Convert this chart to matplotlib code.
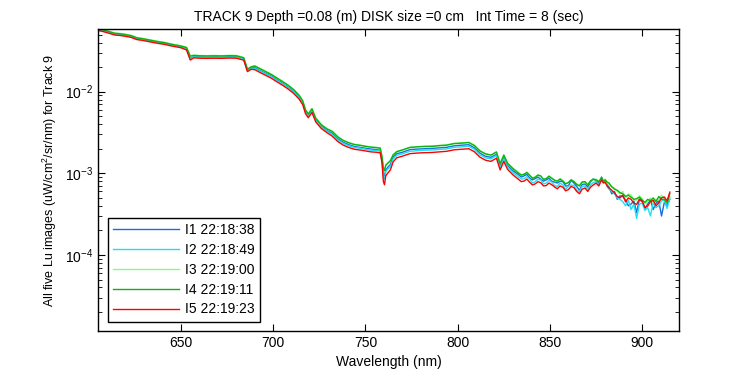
import matplotlib
matplotlib.use("Agg")
import matplotlib.pyplot as plt
from matplotlib.ticker import LogLocator, NullFormatter

plt.rcParams["font.family"] = ["Liberation Sans", "DejaVu Sans"]
plt.rcParams["mathtext.fontset"] = "custom"
plt.rcParams["mathtext.rm"] = "Liberation Sans"

wavelength = [
    605, 608, 611, 614, 617, 620, 623, 626, 629, 632, 635, 638, 641, 644, 647, 650,
    653, 655, 657, 660, 664, 668, 672, 676, 680, 684, 686, 688,
    690, 693, 696, 699, 702, 705, 708, 711, 714, 716, 717.5, 719, 721, 723, 726, 729,
    732, 735, 738, 741, 744, 747, 750, 753, 756, 758,
    759, 759.7, 760.3, 761, 762, 763.5, 765,
    767, 770, 774, 778, 782, 786, 790, 794, 798, 802, 806, 809, 812, 815, 818, 821,
    823, 825, 827, 830,
    833, 834.5, 836, 837.5, 839, 840.5, 842, 843.5, 845, 846.5, 848, 849.5, 851, 852.5, 854,
    855.5, 857, 858.5, 860, 861.5, 863, 864.5, 866, 867.5, 869, 870.5, 872, 873.5, 875,
    876.5, 878, 879, 880, 881, 882,
    883.5, 885, 886.5, 888, 889.5, 891, 892.5, 894, 895.5, 897, 898.5,
    900, 901.5, 903, 904.5, 906, 907.5, 909, 910.5, 912, 913.5, 915,
]

lu_i1 = [
    .0579, .0559, .0535, .0509, .0503, .0490, .0476, .0448, .0438, .0424, .0412, .0401, .0391, .0377, .0366, .0355,
    .0337, .0254, .0270, .0267, .0266, .0267, .0266, .0268, .0267, .0253, .0183, .0196,
    .0197, .0181, .0167, .0155, .0140, .0127, .0114, .0101, .00862, .00734, .00569, .00508, .00589, .00453, .00376, .00335,
    .00308, .00265, .00239, .00224, .00213, .00208, .00203, .00198, .00195, .00192,
    .00145, .000980, .000930, .00110, .00118, .00128, .00158,
    .00174, .00181, .00195, .00198, .00200, .00202, .00205, .00208, .00217, .00221, .00224, .00206, .00177, .00162, .00157, .00171,
    .00123, .00157, .00125, .00107,
    .000960, .000900, .000930, .000970, .000880, .000830, .000860, .000900, .000850, .000800, .000830, .000870, .000800, .000780, .000760,
    .000800, .000790, .000700, .000700, .000820, .000760, .000690, .000620, .000730, .000740, .000680, .000780, .000860, .000820,
    .000760, .000900, .000780, .000810, .000720, .000680,
    .000560, .000600, .000480, .000530, .000520, .000470, .000400, .000420, .000460, .000330, .000480,
    .000450, .000370, .000420, .000480, .000360, .000430, .000460, .000300, .000440, .000400, .000480,
]

lu_i2 = [
    .0573, .0554, .0529, .0504, .0498, .0486, .0471, .0444, .0434, .0420, .0408, .0397, .0388, .0373, .0362, .0352,
    .0334, .0251, .0268, .0265, .0264, .0265, .0264, .0266, .0265, .0250, .0181, .0194,
    .0193, .0178, .0164, .0152, .0137, .0125, .0112, .00993, .00846, .00720, .00558, .00498, .00578, .00444, .00369, .00329,
    .00299, .00257, .00232, .00217, .00207, .00203, .00197, .00192, .00190, .00187,
    .00140, .000900, .000850, .00105, .00112, .00120, .00150,
    .00166, .00173, .00186, .00189, .00192, .00193, .00196, .00199, .00208, .00211, .00214, .00197, .00169, .00155, .00150, .00164,
    .00118, .00150, .00120, .00102,
    .000900, .000850, .000860, .000910, .000850, .000760, .000790, .000850, .000830, .000740, .000760, .000820, .000780, .000710, .000690,
    .000760, .000720, .000640, .000690, .000720, .000710, .000620, .000600, .000690, .000700, .000640, .000720, .000770, .000790,
    .000720, .000850, .000770, .000790, .000690, .000640,
    .000600, .000560, .000500, .000480, .000450, .000400, .000470, .000360, .000420, .000280, .000420,
    .000430, .000350, .000380, .000300, .000440, .000380, .000400, .000460, .000470, .000370, .000500,
]

lu_i3 = [
    .0596, .0576, .0550, .0524, .0517, .0505, .0490, .0461, .0451, .0437, .0424, .0412, .0403, .0388, .0376, .0366,
    .0350, .0275, .0281, .0278, .0276, .0278, .0276, .0279, .0278, .0262, .0190, .0203,
    .0208, .0192, .0177, .0164, .0148, .0134, .0121, .0107, .00911, .00775, .00601, .00536, .00623, .00478, .00398, .00354,
    .00328, .00282, .00254, .00238, .00227, .00222, .00216, .00210, .00208, .00205,
    .00160, .00118, .00110, .00128, .00135, .00145, .00170,
    .00186, .00194, .00209, .00212, .00215, .00216, .00220, .00223, .00233, .00236, .00240, .00221, .00190, .00174, .00168, .00184,
    .00132, .00168, .00134, .00115,
    .00103, .000960, .000990, .00104, .000940, .000880, .000910, .000960, .000920, .000850, .000870, .000930, .000880, .000830, .000810,
    .000860, .000820, .000750, .000780, .000840, .000800, .000740, .000720, .000790, .000780, .000730, .000800, .000850, .000850,
    .000800, .000860, .000820, .000850, .000760, .000740,
    .000690, .000660, .000600, .000560, .000600, .000500, .000560, .000540, .000470, .000470, .000530,
    .000490, .000420, .000450, .000500, .000430, .000480, .000470, .000540, .000500, .000450, .000520,
]

lu_i4 = [
    .0590, .0570, .0545, .0519, .0512, .0500, .0485, .0457, .0446, .0433, .0420, .0408, .0399, .0384, .0373, .0362,
    .0347, .0272, .0278, .0275, .0274, .0275, .0274, .0276, .0275, .0260, .0188, .0201,
    .0206, .0190, .0175, .0162, .0147, .0133, .0120, .0106, .00902, .00768, .00596, .00532, .00617, .00474, .00394, .00351,
    .00325, .00279, .00252, .00236, .00225, .00220, .00214, .00209, .00206, .00203,
    .00158, .00115, .00108, .00125, .00132, .00142, .00168,
    .00184, .00193, .00207, .00211, .00213, .00214, .00218, .00221, .00231, .00234, .00238, .00219, .00188, .00173, .00167, .00182,
    .00131, .00167, .00133, .00114,
    .00100, .000950, .000970, .00102, .000950, .000870, .000890, .000950, .000930, .000840, .000860, .000920, .000870, .000820, .000800,
    .000850, .000800, .000740, .000770, .000830, .000790, .000730, .000700, .000780, .000790, .000720, .000810, .000840, .000830,
    .000790, .000880, .000800, .000830, .000780, .000760,
    .000680, .000640, .000620, .000580, .000560, .000520, .000540, .000510, .000480, .000490, .000510,
    .000470, .000440, .000480, .000460, .000500, .000450, .000520, .000480, .000480, .000430, .000560,
]

lu_i5 = [
    .0562, .0543, .0519, .0494, .0488, .0476, .0462, .0435, .0425, .0412, .0400, .0389, .0380, .0366, .0355, .0345,
    .0324, .0244, .0260, .0257, .0256, .0257, .0256, .0258, .0257, .0243, .0176, .0188,
    .0186, .0171, .0158, .0146, .0132, .0120, .0108, .00955, .00813, .00692, .00537, .00479, .00556, .00427, .00355, .00316,
    .00285, .00245, .00221, .00207, .00197, .00193, .00188, .00183, .00181, .00178,
    .00132, .000794, .000724, .000933, .00100, .00110, .00138,
    .00155, .00162, .00174, .00177, .00179, .00180, .00183, .00186, .00194, .00197, .00200, .00184, .00158, .00145, .00140, .00153,
    .00110, .00140, .00112, .000955,
    .000841, .000790, .000804, .000850, .000776, .000720, .000741, .000790, .000767, .000700, .000708, .000760, .000724, .000680, .000646,
    .000700, .000676, .000610, .000631, .000690, .000668, .000600, .000562, .000640, .000661, .000600, .000676, .000720, .000759,
    .000700, .000832, .000760, .000776, .000700, .000661,
    .000620, .000575, .000520, .000501, .000540, .000447, .000500, .000479, .000430, .000417, .000480,
    .000457, .000380, .000398, .000450, .000468, .000400, .000437, .000500, .000513, .000460, .000589,
]

series_labels = ["I1 22:18:38", "I2 22:18:49", "I3 22:19:00", "I4 22:19:11", "I5 22:19:23"]
series_colors = ["#1570e0", "#20e0f0", "#80ff80", "#10b010", "#ff0000"]

fig = plt.figure(figsize=(7.5, 3.75), dpi=100)
ax = fig.add_axes([0.1307, 0.1173, 0.7747, 0.8054])

for values, label, color in zip([lu_i1, lu_i2, lu_i3, lu_i4, lu_i5], series_labels, series_colors):
    ax.plot(wavelength, values, color=color, linewidth=1.0, label=label)

ax.set_yscale("log")
ax.set_xlim(605, 920)
ax.set_ylim(1.17e-5, 0.0586)
ax.yaxis.set_major_locator(LogLocator(base=10, numticks=10))
ax.yaxis.set_minor_locator(LogLocator(base=10, subs=range(2, 10), numticks=20))
ax.yaxis.set_minor_formatter(NullFormatter())
ax.set_xticks([650, 700, 750, 800, 850, 900])
ax.tick_params(which="both", direction="in", top=True, right=True, labelsize=10)
ax.tick_params(which="major", length=5)
ax.tick_params(which="minor", length=3)
for spine in ax.spines.values():
    spine.set_linewidth(1.0)

ax.set_xlabel("Wavelength (nm)", fontsize=10, labelpad=4)
ax.set_ylabel("All five Lu images (uW/cm$^2$/sr/nm) for Track 9", fontsize=9, labelpad=4)
ax.set_title("TRACK 9 Depth =0.08 (m) DISK size =0 cm   Int Time = 8 (sec)", fontsize=10, pad=6)

leg = ax.legend(loc="lower left", bbox_to_anchor=(0.017, 0.03), borderaxespad=0,
                fontsize=10, handlelength=4.7, handletextpad=0.45, labelspacing=0.42,
                fancybox=False, edgecolor="black", framealpha=1, borderpad=0.4)
leg.get_frame().set_linewidth(1.0)

fig.savefig("out.png", dpi=100)
plt.close(fig)
